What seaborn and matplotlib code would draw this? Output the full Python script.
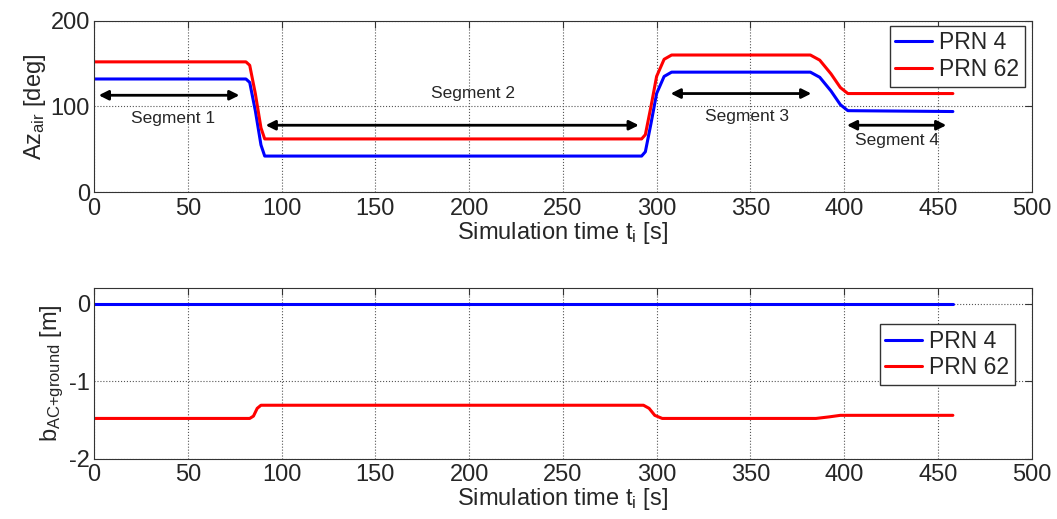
import pandas as pd
import seaborn as sns
import matplotlib
matplotlib.use("Agg")
import matplotlib.pyplot as plt

# azimuth of the two satellites seen from the aircraft
t_az = [0, 81, 83, 86, 89, 91, 292, 294, 297, 300, 304, 308, 382, 387, 393, 398, 402, 458]
az_prn4 = [132, 132, 128, 95, 55, 42, 42, 47, 80, 115, 135, 140, 140, 134, 118, 102, 95, 94]
az_prn62 = [152, 152, 148, 115, 75, 62, 62, 67, 100, 135, 155, 160, 160, 154, 138, 122, 115, 115]

# bias AC + ground
t_b4 = [0, 458]
b_prn4 = [-0.01, -0.01]
t_b62 = [0, 83, 85, 87, 89, 293, 296, 299, 303, 385, 392, 398, 458]
b_prn62 = [-1.48, -1.48, -1.45, -1.35, -1.31, -1.31, -1.35, -1.44, -1.48, -1.48, -1.46, -1.44, -1.44]

# segment arrows: start, end, height, label x, label y
seg_names = ["Segment 1", "Segment 2", "Segment 3", "Segment 4"]
seg_start = [1, 90, 306, 400]
seg_end = [79, 292, 384, 456]
seg_y = [113, 78, 115, 78]
seg_tx = [42, 202, 348, 428]
seg_ty = [86, 115, 88, 60]

sns.set_style("white")
plt.rcParams['font.family'] = ['Liberation Sans', 'DejaVu Sans']
plt.rcParams['mathtext.default'] = 'regular'
plt.rcParams['axes.unicode_minus'] = False
plt.rcParams['xtick.direction'] = 'in'
plt.rcParams['ytick.direction'] = 'in'

az = pd.concat([
    pd.DataFrame({'t': t_az, 'v': az_prn4, 'sat': 'PRN 4'}),
    pd.DataFrame({'t': t_az, 'v': az_prn62, 'sat': 'PRN 62'}),
])
bias = pd.concat([
    pd.DataFrame({'t': t_b4, 'v': b_prn4, 'sat': 'PRN 4'}),
    pd.DataFrame({'t': t_b62, 'v': b_prn62, 'sat': 'PRN 62'}),
])
pal = {'PRN 4': '#0000ff', 'PRN 62': '#ff0000'}

fig = plt.figure(figsize=(10.57, 5.19), dpi=100)
ax1 = fig.add_axes([0.089, 0.630, 0.887, 0.330])
ax2 = fig.add_axes([0.089, 0.116, 0.887, 0.329])

sns.lineplot(data=az, x='t', y='v', hue='sat', palette=pal, linewidth=2.2, ax=ax1)
sns.lineplot(data=bias, x='t', y='v', hue='sat', palette=pal, linewidth=2.2, ax=ax2)

for i in range(len(seg_names)):
    ax1.annotate('', xy=(seg_start[i], seg_y[i]), xytext=(seg_end[i], seg_y[i]),
                 arrowprops=dict(arrowstyle='<|-|>', color='black', lw=2, mutation_scale=14))
    ax1.text(seg_tx[i], seg_ty[i], seg_names[i], ha='center', va='center', fontsize=12.5)

ax1.set_ylim(0, 200)
ax1.set_yticks([0, 100, 200])
ax1.set_ylabel('Az$_{air}$ [deg]', fontsize=17, labelpad=2)
ax2.set_ylim(-2, 0.2)
ax2.set_yticks([-2, -1, 0])
ax2.set_ylabel('b$_{AC{+}ground}$ [m]', fontsize=17, labelpad=2)

for ax in (ax1, ax2):
    ax.set_xlim(0, 500)
    ax.set_xticks(range(0, 501, 50))
    ax.set_xlabel('Simulation time t$_i$ [s]', fontsize=17, labelpad=0)
    ax.tick_params(labelsize=17, length=5, color='#333333', top=True, right=True)
    ax.tick_params(axis='x', pad=4)
    ax.tick_params(axis='y', pad=3)
    ax.grid(True, linestyle=':', color='#555555', linewidth=0.8)
    for s in ax.spines.values():
        s.set_color('#333333')
        s.set_linewidth(0.8)

leg_opts = dict(fontsize=16.5, frameon=True, fancybox=False, edgecolor='#333333', framealpha=1,
                handlelength=1.6, borderpad=0.25, labelspacing=0.15, handletextpad=0.3,
                borderaxespad=0)
ax1.legend(loc='upper right', bbox_to_anchor=(0.9925, 0.971), **leg_opts)
ax2.legend(loc='upper right', bbox_to_anchor=(0.982, 0.789), **leg_opts)

plt.savefig('out.png', dpi=100)
print("done")
